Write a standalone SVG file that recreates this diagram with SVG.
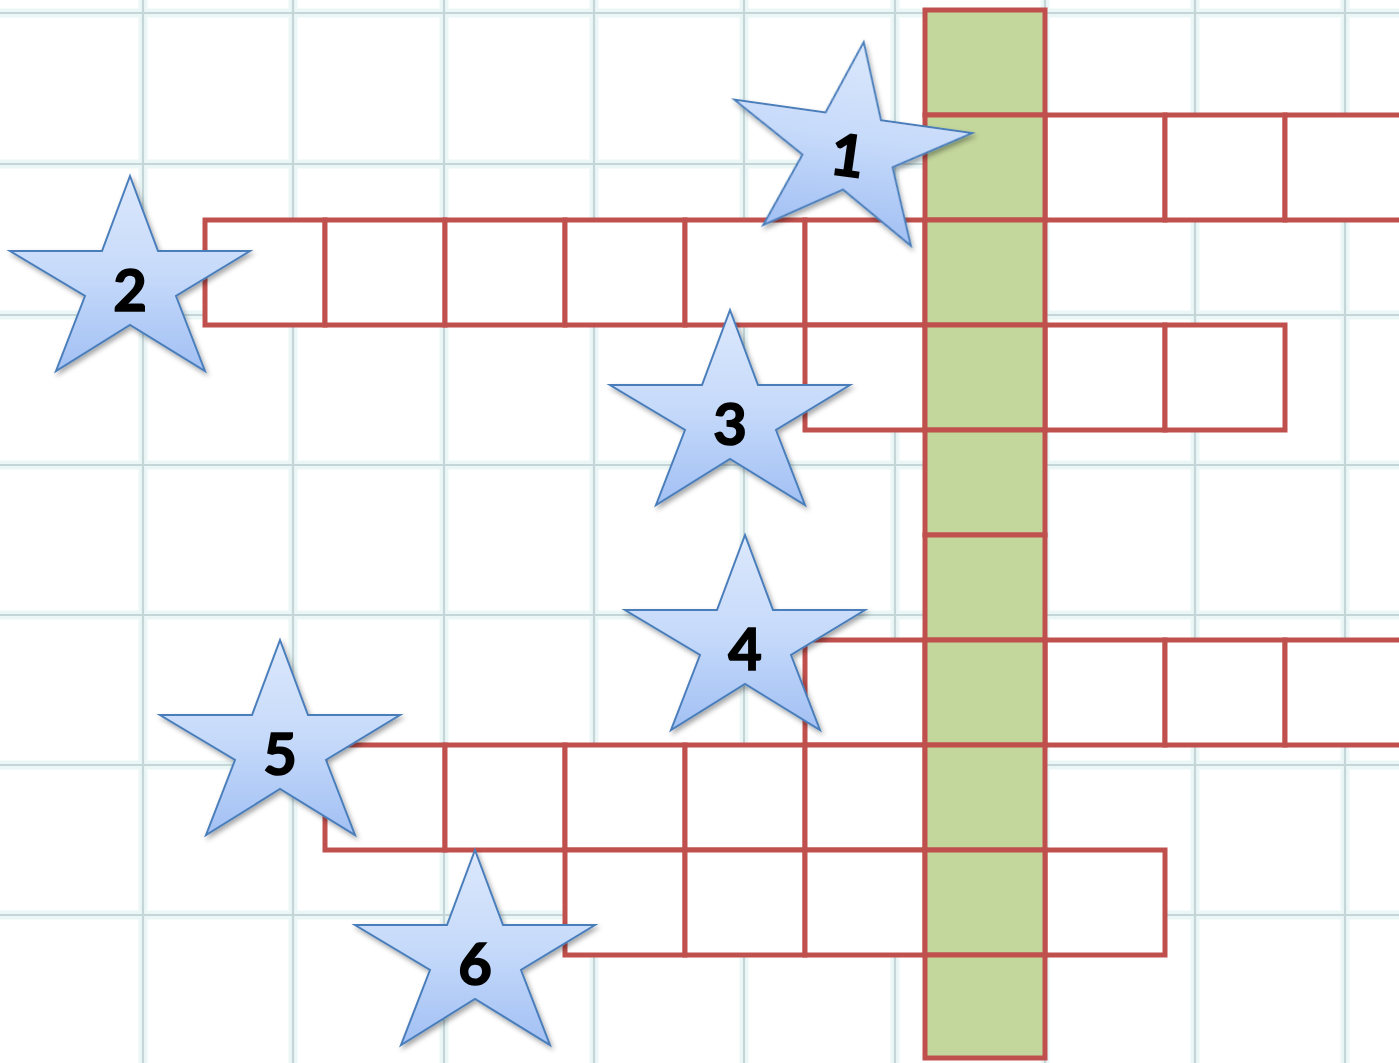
<svg xmlns="http://www.w3.org/2000/svg" width="1399" height="1063" viewBox="0 0 1399 1063">
<style>
.halo{stroke:#ebf6f7;stroke-width:9;fill:none}
.gl{stroke:#c5d6d9;stroke-width:2.2;fill:none}
.c{fill:#ffffff;stroke:#c0504d;stroke-width:5}
.g{fill:#c3d69b;stroke:#c0504d;stroke-width:5}
.star{fill:url(#sg);stroke:#4a7ebb;stroke-width:2;filter:url(#sh)}
.num{font-family:Lato,"Open Sans","Liberation Sans",sans-serif;font-weight:700;font-size:58px;fill:#000;stroke:#000;stroke-width:1.6;text-anchor:middle}
</style>
<defs>
<linearGradient id="sg" x1="0" y1="0" x2="0" y2="1">
<stop offset="0" stop-color="#dce8fc"/>
<stop offset="0.5" stop-color="#c6dafa"/>
<stop offset="1" stop-color="#a2c0f4"/>
</linearGradient>
<filter id="sh" x="-20%" y="-20%" width="140%" height="140%">
<feDropShadow dx="2" dy="3" stdDeviation="2.5" flood-color="#000" flood-opacity="0.35"/>
</filter>
<path id="st" d="M0,-113 L28,-38 L120,-38 L46,7 L75,82 L0,36 L-74,82 L-45,7 L-120,-38 L-28,-38 Z"/>
</defs>
<rect width="1399" height="1063" fill="#ffffff"/>
<g id="paper">
<g class="halo">
<path d="M143,0V1063M293,0V1063M444,0V1063M594,0V1063M744,0V1063M895,0V1063M1045,0V1063M1195,0V1063M1345,0V1063"/>
<path d="M0,13H1399M0,164H1399M0,315H1399M0,465H1399M0,615H1399M0,765H1399M0,915H1399"/>
</g>
<g class="gl">
<path d="M143,0V1063M293,0V1063M444,0V1063M594,0V1063M744,0V1063M895,0V1063M1045,0V1063M1195,0V1063M1345,0V1063"/>
<path d="M0,13H1399M0,164H1399M0,315H1399M0,465H1399M0,615H1399M0,765H1399M0,915H1399"/>
</g>
</g>
<g id="connectors"></g>
<g id="word1">
<rect class="c" x="1045" y="115" width="120" height="105"/>
<rect class="c" x="1165" y="115" width="120" height="105"/>
<rect class="c" x="1285" y="115" width="120" height="105"/>
</g>
<g id="word2">
<rect class="c" x="205" y="220" width="120" height="105"/>
<rect class="c" x="325" y="220" width="120" height="105"/>
<rect class="c" x="445" y="220" width="120" height="105"/>
<rect class="c" x="565" y="220" width="120" height="105"/>
<rect class="c" x="685" y="220" width="120" height="105"/>
<rect class="c" x="805" y="220" width="120" height="105"/>
</g>
<g id="word3">
<rect class="c" x="805" y="325" width="120" height="105"/>
<rect class="c" x="1045" y="325" width="120" height="105"/>
<rect class="c" x="1165" y="325" width="120" height="105"/>
</g>
<g id="word4">
<rect class="c" x="805" y="640" width="120" height="105"/>
<rect class="c" x="1045" y="640" width="120" height="105"/>
<rect class="c" x="1165" y="640" width="120" height="105"/>
<rect class="c" x="1285" y="640" width="120" height="105"/>
</g>
<g id="word5">
<rect class="c" x="325" y="745" width="120" height="105"/>
<rect class="c" x="445" y="745" width="120" height="105"/>
<rect class="c" x="565" y="745" width="120" height="105"/>
<rect class="c" x="685" y="745" width="120" height="105"/>
<rect class="c" x="805" y="745" width="120" height="105"/>
</g>
<g id="word6">
<rect class="c" x="565" y="850" width="120" height="105"/>
<rect class="c" x="685" y="850" width="120" height="105"/>
<rect class="c" x="805" y="850" width="120" height="105"/>
<rect class="c" x="1045" y="850" width="120" height="105"/>
</g>
<g id="keyword">
<rect class="g" x="925" y="10" width="120" height="105"/>
<rect class="g" x="925" y="115" width="120" height="105"/>
<rect class="g" x="925" y="220" width="120" height="105"/>
<rect class="g" x="925" y="325" width="120" height="105"/>
<rect class="g" x="925" y="430" width="120" height="105"/>
<rect class="g" x="925" y="535" width="120" height="105"/>
<rect class="g" x="925" y="640" width="120" height="105"/>
<rect class="g" x="925" y="745" width="120" height="105"/>
<rect class="g" x="925" y="850" width="120" height="105"/>
<rect class="g" x="925" y="955" width="120" height="103"/>
</g>
<g id="star1" transform="translate(848,154) rotate(8)">
<use href="#st" class="star"/>
<text class="num" x="0" y="22">1</text>
</g>
<g id="star2" transform="translate(130,289)">
<use href="#st" class="star"/>
<text class="num" x="0" y="22">2</text>
</g>
<g id="star3" transform="translate(730,423)">
<use href="#st" class="star"/>
<text class="num" x="0" y="22">3</text>
</g>
<g id="star4" transform="translate(745,648)">
<use href="#st" class="star"/>
<text class="num" x="0" y="22">4</text>
</g>
<g id="star5" transform="translate(280,753)">
<use href="#st" class="star"/>
<text class="num" x="0" y="22">5</text>
</g>
<g id="star6" transform="translate(475,963)">
<use href="#st" class="star"/>
<text class="num" x="0" y="22">6</text>
</g>
</svg>
